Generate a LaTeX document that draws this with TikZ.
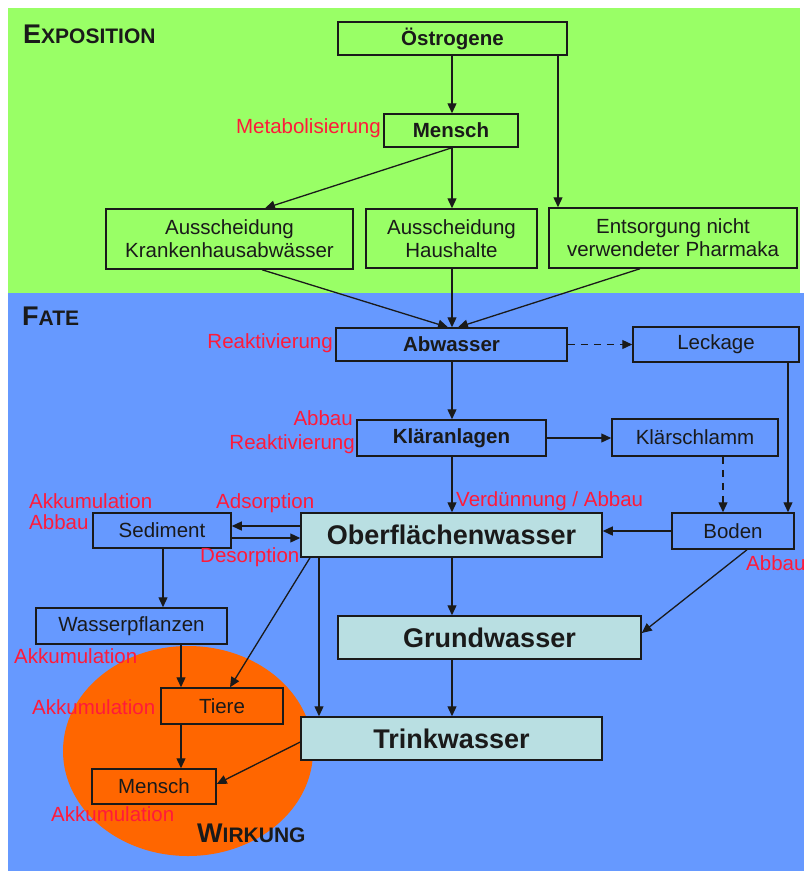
\documentclass[tikz,border=0pt]{standalone}
\usepackage{fontspec}
\setmainfont{Liberation Sans}
\usetikzlibrary{arrows.meta}
\definecolor{bggreen}{HTML}{99FF66}
\definecolor{bgblue}{HTML}{6699FF}
\definecolor{orng}{HTML}{FF6600}
\definecolor{lcyan}{HTML}{B9DFE2}
\definecolor{lblred}{HTML}{FF1A3A}
\definecolor{ink}{HTML}{1A1A1A}
\newcommand\fakesc[2]{{\fontsize{27}{27}\selectfont #1}{\fontsize{21}{21}\selectfont #2}}
\tikzset{
  box/.style={draw=ink, line width=1.5pt, inner sep=0pt, align=center,
    font=\fontsize{20.5}{23}\selectfont, text=ink},
  bbox/.style={box, font=\fontsize{20.5}{23}\selectfont\bfseries},
  bigbox/.style={box, fill=lcyan, font=\fontsize{27}{30}\selectfont\bfseries},
  arr/.style={draw=ink, line width=1.3pt, -{Triangle[length=10pt,width=9pt]}},
  darr/.style={arr, dash pattern=on 7pt off 6pt},
  lbl/.style={inner sep=0pt, text=lblred, font=\fontsize{20.5}{23}\selectfont},
  ttl/.style={inner sep=0pt, text=ink, font=\bfseries, anchor=base west}
}
\begin{document}
\begin{tikzpicture}[x=1pt,y=-1pt]
\useasboundingbox (0,0) rectangle (804,871);
\fill[white] (0,0) rectangle (804,871);
\fill[bggreen] (8,8) rectangle (800,293);
\fill[bgblue] (8,293) rectangle (804,871);
\fill[orng] (188,751) ellipse [x radius=125, y radius=105];

% titles
\node[ttl] (tExp) at (23,43) {\fakesc{E}{XPOSITION}};
\node[ttl] (tFate) at (22,325) {\fakesc{F}{ATE}};
\node[ttl] (tWirk) at (197,842) {\fakesc{W}{IRKUNG}};

% boxes
\node[bbox, minimum width=229, minimum height=33] (ostro) at (452.5,38.5) {Östrogene};
\node[bbox, minimum width=134, minimum height=33] (mensch1) at (451,130.5) {Mensch};
\node[box, minimum width=247, minimum height=60] (kkh) at (229.5,239) {Ausscheidung\\Krankenhausabwässer};
\node[box, minimum width=171, minimum height=59] (haus) at (451.5,238.5) {Ausscheidung\\Haushalte};
\node[box, minimum width=248, minimum height=60] (entsorg) at (673,238) {Entsorgung nicht\\verwendeter Pharmaka};
\node[bbox, minimum width=231, minimum height=33] (abw) at (451.5,344.5) {Abwasser};
\node[box, minimum width=166, minimum height=35] (leck) at (716,344.5) {Leckage};
\node[bbox, minimum width=189, minimum height=36] (klaer) at (451.5,438) {Kläranlagen};
\node[box, minimum width=166, minimum height=37] (schlamm) at (695,437.5) {Klärschlamm};
\node[bigbox, minimum width=301, minimum height=44] (ober) at (451.5,535) {Oberflächenwasser};
\node[box, minimum width=122, minimum height=36] (boden) at (733,531) {Boden};
\node[box, minimum width=138, minimum height=35] (sed) at (162,530.5) {Sediment};
\node[box, minimum width=191, minimum height=36] (wpfl) at (131.5,626) {Wasserpflanzen};
\node[bigbox, minimum width=303, minimum height=43] (grund) at (489.5,637.5) {Grundwasser};
\node[bigbox, minimum width=301, minimum height=43] (trink) at (451.5,738.5) {Trinkwasser};
\node[box, minimum width=122, minimum height=36] (tiere) at (222,706) {Tiere};
\node[box, minimum width=124, minimum height=35] (mensch2) at (154,786.5) {Mensch};

% helper coordinates
\coordinate (c452) at (452,0);
\coordinate (c558) at (558,0);
\coordinate (c265) at (265,0);
\coordinate (c262) at (262,0);
\coordinate (c448) at (448,0);
\coordinate (c458) at (458,0);
\coordinate (c640) at (640,0);
\coordinate (c723) at (723,0);
\coordinate (c788) at (788,0);
\coordinate (c163) at (163,0);
\coordinate (c181) at (181,0);
\coordinate (c319) at (319,0);
\coordinate (c310) at (310,0);
\coordinate (c230) at (230,0);
\coordinate (c747) at (747,0);
\coordinate (y526) at (0,526);
\coordinate (y538) at (0,538);
\coordinate (y633) at (0,633);
\coordinate (y742) at (0,742);
\coordinate (y784) at (0,784);

% connectors
\draw[arr] (ostro.south -| c452) -- (mensch1.north -| c452);
\draw[arr] (ostro.south -| c558) -- (entsorg.north -| c558);
\draw[arr] (mensch1.south -| c452) -- (haus.north -| c452);
\draw[arr] (mensch1.south -| c452) -- (kkh.north -| c265);
\draw[arr] (kkh.south -| c262) -- (abw.north -| c448);
\draw[arr] (haus.south -| c452) -- (abw.north -| c452);
\draw[arr] (entsorg.south -| c640) -- (abw.north -| c458);
\draw[darr] (abw.east) -- (leck.west |- abw.east);
\draw[arr] (abw.south -| c452) -- (klaer.north -| c452);
\draw[arr] (klaer.east) -- (schlamm.west |- klaer.east);
\draw[arr] (klaer.south -| c452) -- (ober.north -| c452);
\draw[darr] (schlamm.south -| c723) -- (boden.north -| c723);
\draw[arr] (leck.south -| c788) -- (boden.north -| c788);
\draw[arr] (boden.west) -- (ober.east |- boden.west);
\draw[arr] (ober.west |- y526) -- (sed.east |- y526);
\draw[arr] (sed.east |- y538) -- (ober.west |- y538);
\draw[arr] (sed.south -| c163) -- (wpfl.north -| c163);
\draw[arr] (ober.south -| c452) -- (grund.north -| c452);
\draw[arr] (boden.south -| c747) -- (grund.east |- y633);
\draw[arr] (grund.south -| c452) -- (trink.north -| c452);
\draw[arr] (ober.south -| c319) -- (trink.north -| c319);
\draw[arr] (ober.south -| c310) -- (tiere.north -| c230);
\draw[arr] (wpfl.south -| c181) -- (tiere.north -| c181);
\draw[arr] (tiere.south -| c181) -- (mensch2.north -| c181);
\draw[arr] (trink.west |- y742) -- (mensch2.east |- y784);

% labels
\node[lbl, anchor=east] (lMeta) at (381,128) {Metabolisierung};
\node[lbl, anchor=east] (lReak1) at (333,343) {Reaktivierung};
\node[lbl, anchor=east] (lAbb1) at (353,418) {Abbau};
\node[lbl, anchor=east] (lReak2) at (355,444) {Reaktivierung};
\node[lbl, anchor=west] (lAkk1) at (29,501) {Akkumulation};
\node[lbl, anchor=west] (lAbb2) at (29,522) {Abbau};
\node[lbl, anchor=west] (lAds) at (216,503) {Adsorption};
\node[lbl, anchor=west] (lDes) at (200,557) {Desorption};
\node[lbl, anchor=west] (lVerd) at (456,501) {Verdünnung / Abbau};
\node[lbl, anchor=west] (lAbb3) at (746,563) {Abbau};
\node[lbl, anchor=west] (lAkk2) at (14,656) {Akkumulation};
\node[lbl, anchor=west] (lAkk3) at (32,707) {Akkumulation};
\node[lbl, anchor=west] (lAkk4) at (51,814) {Akkumulation};
\end{tikzpicture}
\end{document}
